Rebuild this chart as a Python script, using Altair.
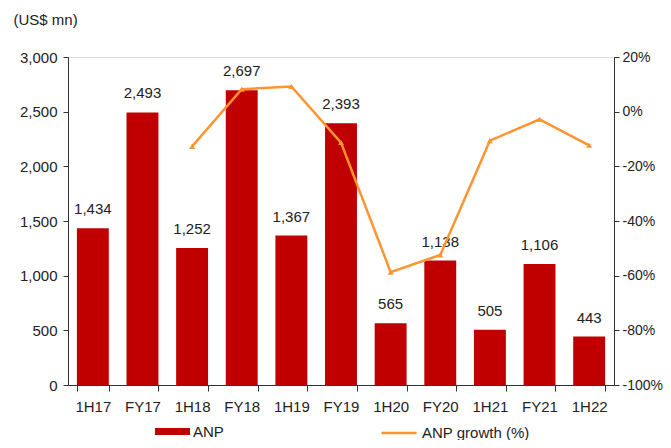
import altair as alt
import pandas as pd

cats = ["1H17", "FY17", "1H18", "FY18", "1H19", "FY19", "1H20", "FY20", "1H21", "FY21", "1H22"]
anp = [1434, 2493, 1252, 2697, 1367, 2393, 565, 1138, 505, 1106, 443]
growth = [None, None, -0.127, 0.082, 0.092, -0.113, -0.587, -0.524, -0.106, -0.028, -0.123]

df = pd.DataFrame({"period": cats, "anp": anp, "growth": growth})
df["s1"] = "ANP"
df["s2"] = "ANP growth (%)"

FONT = "Liberation Sans"
FS = 15
RED = "#C00000"
ORANGE = "#FF9430"
TXT = "#222"

x_axis = alt.Axis(labelAngle=0, tickBand="extent", labelFont=FONT, labelFontSize=FS,
                  labelColor=TXT, domainColor="#333", tickColor="#333",
                  tickSize=6, labelPadding=8)
x_scale = alt.Scale(paddingInner=0.357, paddingOuter=0.179)
x = alt.X("period:N", sort=cats, title=None, scale=x_scale, axis=x_axis)

left_axis = alt.Axis(values=[0, 500, 1000, 1500, 2000, 2500, 3000], format=",.0f",
                     title="(US$ mn)", titleAngle=0, titleX=-55, titleY=-38,
                     titleAlign="left", titleBaseline="middle", titleFont=FONT,
                     titleFontSize=FS, titleFontWeight="normal", titleColor=TXT,
                     labelFont=FONT, labelFontSize=FS, labelColor=TXT,
                     domainColor="#333", tickColor="#333", tickSize=5,
                     grid=False, labelPadding=6)
ascale = alt.Scale(domain=[0, 3000])

base = alt.Chart(df)

bars = base.mark_bar(color=RED).encode(
    x=x,
    y=alt.Y("anp:Q", scale=ascale, axis=left_axis),
    color=alt.Color("s1:N", scale=alt.Scale(domain=["ANP"], range=[RED]),
                    legend=alt.Legend(orient="none", legendX=87, legendY=357, title=None,
                                      symbolType="M-1,-0.2L1,-0.2L1,0.2L-1,0.2Z",
                                      symbolSize=1225, symbolStrokeWidth=0,
                                      labelFont=FONT, labelFontSize=FS, labelColor=TXT,
                                      labelOffset=3)),
)

labels = base.mark_text(dy=-19, font=FONT, fontSize=FS, color=TXT).encode(
    x=x,
    y=alt.Y("anp:Q", scale=ascale, axis=left_axis),
    text=alt.Text("anp:Q", format=","),
)

left = alt.layer(bars, labels)

gscale = alt.Scale(domain=[-1.0, 0.2])
right_axis = alt.Axis(orient="right", values=[-1.0, -0.8, -0.6, -0.4, -0.2, 0, 0.2],
                      format=".0%", labelExpr="replace(datum.label, '\u2212', '-')",
                      title=None, grid=False,
                      labelFont=FONT, labelFontSize=14, labelColor=TXT,
                      domainColor="#333", tickColor="#333", tickSize=5, labelPadding=3)
line = base.transform_filter("datum.growth != null").mark_line(strokeWidth=2.5).encode(
    x=x,
    y=alt.Y("growth:Q", scale=gscale, axis=right_axis),
    stroke=alt.Stroke("s2:N", scale=alt.Scale(domain=["ANP growth (%)"], range=[ORANGE]),
                      legend=alt.Legend(orient="none", legendX=312, legendY=357, title=None,
                                        symbolType="stroke", symbolSize=1225,
                                        symbolStrokeWidth=2.5,
                                        labelFont=FONT, labelFontSize=FS, labelColor=TXT,
                                        labelOffset=4)),
)
pts = base.transform_filter("datum.growth != null").mark_point(
    shape="triangle-up", filled=True, size=35, color=ORANGE, opacity=1).encode(
    x=x,
    y=alt.Y("growth:Q", scale=gscale, axis=right_axis),
)
right = alt.layer(line, pts)

chart = alt.layer(left, right).resolve_scale(y="independent").properties(
    width=546, height=328,
    autosize=alt.AutoSizeParams(type="none"),
    padding={"left": 60, "top": 49, "right": 49, "bottom": 55},
).configure_view(stroke=None).configure(background="white")

chart.save("out.html", embed_options={"renderer": "svg", "actions": False})
